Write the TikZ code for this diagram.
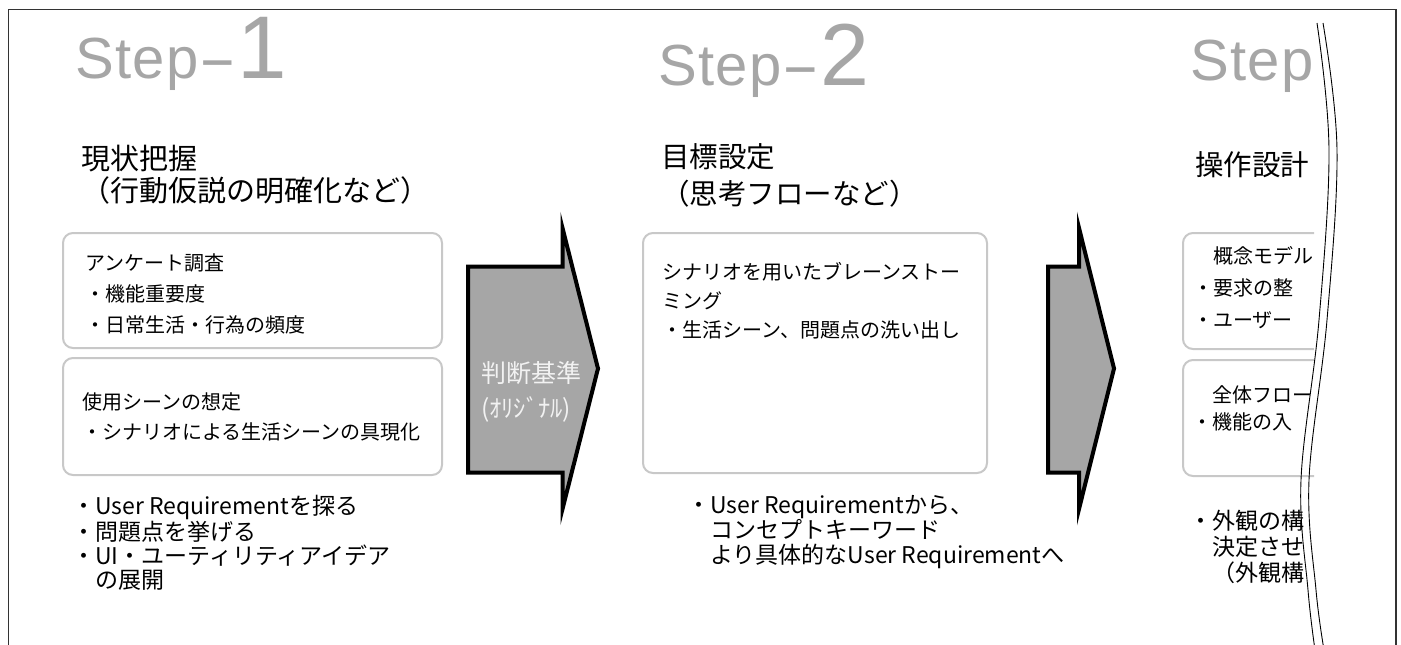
\documentclass[tikz,border=0pt]{standalone}
\usepackage{fontspec}
\usepackage{graphicx}
\setmainfont{Noto Sans CJK JP}
\newfontfamily\stepfont[LetterSpace=2.5]{Liberation Sans}
\definecolor{stepgray}{HTML}{A6A6A6}
\definecolor{cardgray}{HTML}{C8C8C8}
\definecolor{arrowgray}{HTML}{A6A6A6}
\definecolor{arrowtext}{HTML}{F2F2F2}
\definecolor{framegray}{HTML}{333333}
\newcommand\fsz[2]{\fontsize{#1}{#2}\selectfont}
\newcommand\stepword{{\fsz{58}{60}Step\scalebox{2.0}[1]{-}}}
\tikzset{
  steplabel/.style={anchor=base west, inner sep=0pt, outer sep=0pt, text=stepgray, font=\stepfont},
  headtxt/.style={anchor=north west, inner sep=0pt, align=left},
  card/.style={draw=cardgray, line width=2pt, rounded corners=10pt, fill=white, anchor=north west, inner sep=0pt, outer sep=0pt},
  cardtxt/.style={anchor=north west, inner sep=0pt, align=left},
  notetxt/.style={anchor=north west, inner sep=0pt, align=left},
  blockarrow/.style={draw=black, line width=4pt, fill=arrowgray, line join=miter},
  arrowtxt/.style={anchor=north west, inner sep=0pt, align=left, text=arrowtext},
  frameline/.style={draw=framegray, line width=1.5pt},
  cutline/.style={draw=black, line width=0.9pt},
}
\begin{document}
\begin{tikzpicture}[x=1pt,y=-1pt]
\useasboundingbox (0,0) rectangle (1401,645);
\fill[white] (0,0) rectangle (1401,645);

% frame
\draw[frameline] (8.5,645) -- (8.5,9.5) -- (1396,9.5) -- (1396,645);

% ---------- Step 1 ----------
\node[steplabel] (s1) at (75,78) {\stepword{\fsz{89}{89}1}};
\node[headtxt, font=\fsz{29}{32}] (h1) at (81,145) {現状把握\\（行動仮説の明確化など）};
\node[card, minimum width=379pt, minimum height=115pt] (a1) at (63,233) {};
\node[card, minimum width=379pt, minimum height=117pt] (a2) at (63,358) {};
\node[cardtxt, font=\fsz{20}{31}] (a1t) at (85,253) {アンケート調査\\・機能重要度\\・日常生活・行為の頻度};
\node[cardtxt, font=\fsz{20}{30}] (a2t) at (82,392) {使用シーンの想定\\・シナリオによる生活シーンの具現化};
\node[notetxt, font=\fsz{23}{24}] (n1) at (72,495) {・User Requirementを探る\\・問題点を挙げる\\・UI・ユーティリティアイデア\\\phantom{・}の展開};

% arrow 1
\draw[blockarrow] (468,266.5) -- (562.5,266.5) -- (562.5,228) -- (598,368.5) -- (562.5,509) -- (562.5,472.5) -- (468,472.5) -- cycle;
\node[arrowtxt, font=\fsz{25}{35}] (crit) at (481,361) {判断基準\\{\fsz{24.5}{24.5}(ｵﾘｼﾞﾅﾙ)}};

% ---------- Step 2 ----------
\node[steplabel] (s2) at (658,85) {\stepword{\fsz{88}{88}2}};
\node[headtxt, font=\fsz{28.5}{37}] (h2) at (661,143) {目標設定\\（思考フローなど）};
\node[card, minimum width=344pt, minimum height=240pt] (b1) at (643,233) {};
\node[cardtxt, font=\fsz{20}{29}] (b1t) at (662,262) {シナリオを用いたブレーンストー\\ミング\\・生活シーン、問題点の洗い出し};
\node[notetxt, font=\fsz{23}{25}] (n2) at (687,495) {・User Requirementから、\\\phantom{・}コンセプトキーワード\\\phantom{・}より具体的なUser Requirementへ};

% arrow 2
\draw[blockarrow] (1048,266.5) -- (1079,266.5) -- (1079,228) -- (1114,368.5) -- (1079,509) -- (1079,472.5) -- (1048,472.5) -- cycle;

% ---------- Step 3 (cut off) ----------
\begin{scope}
\clip (1140,0) rectangle (1314,645);
\node[steplabel] (s3) at (1190,80) {{\fsz{58}{60}Step}};
\node[headtxt, font=\fsz{28.5}{32}] (h3) at (1195,151) {操作設計};
\node[card, minimum width=300pt, minimum height=116pt] (c1) at (1183,233) {};
\node[card, minimum width=300pt, minimum height=116pt] (c2) at (1183,360) {};
\node[cardtxt, font=\fsz{20}{32}] (c1t) at (1193,246) {\phantom{・}概念モデル\\・要求の整\\・ユーザー};
\node[cardtxt, font=\fsz{20}{27}] (c2t) at (1192,385) {\phantom{・}全体フロー\\・機能の入};
\node[notetxt, font=\fsz{23}{26}] (n3) at (1189,510) {・外観の構\\\phantom{・}決定させ\\\phantom{・}（外観構};
\end{scope}

% cut lines
\draw[cutline] plot[smooth, tension=0.6] coordinates {(1317,23) (1329,150) (1319,320) (1301,480) (1308,590) (1315,650)};
\draw[cutline] plot[smooth, tension=0.6] coordinates {(1323,23) (1337,150) (1327,320) (1309,480) (1316,590) (1324,650)};
\end{tikzpicture}
\end{document}
